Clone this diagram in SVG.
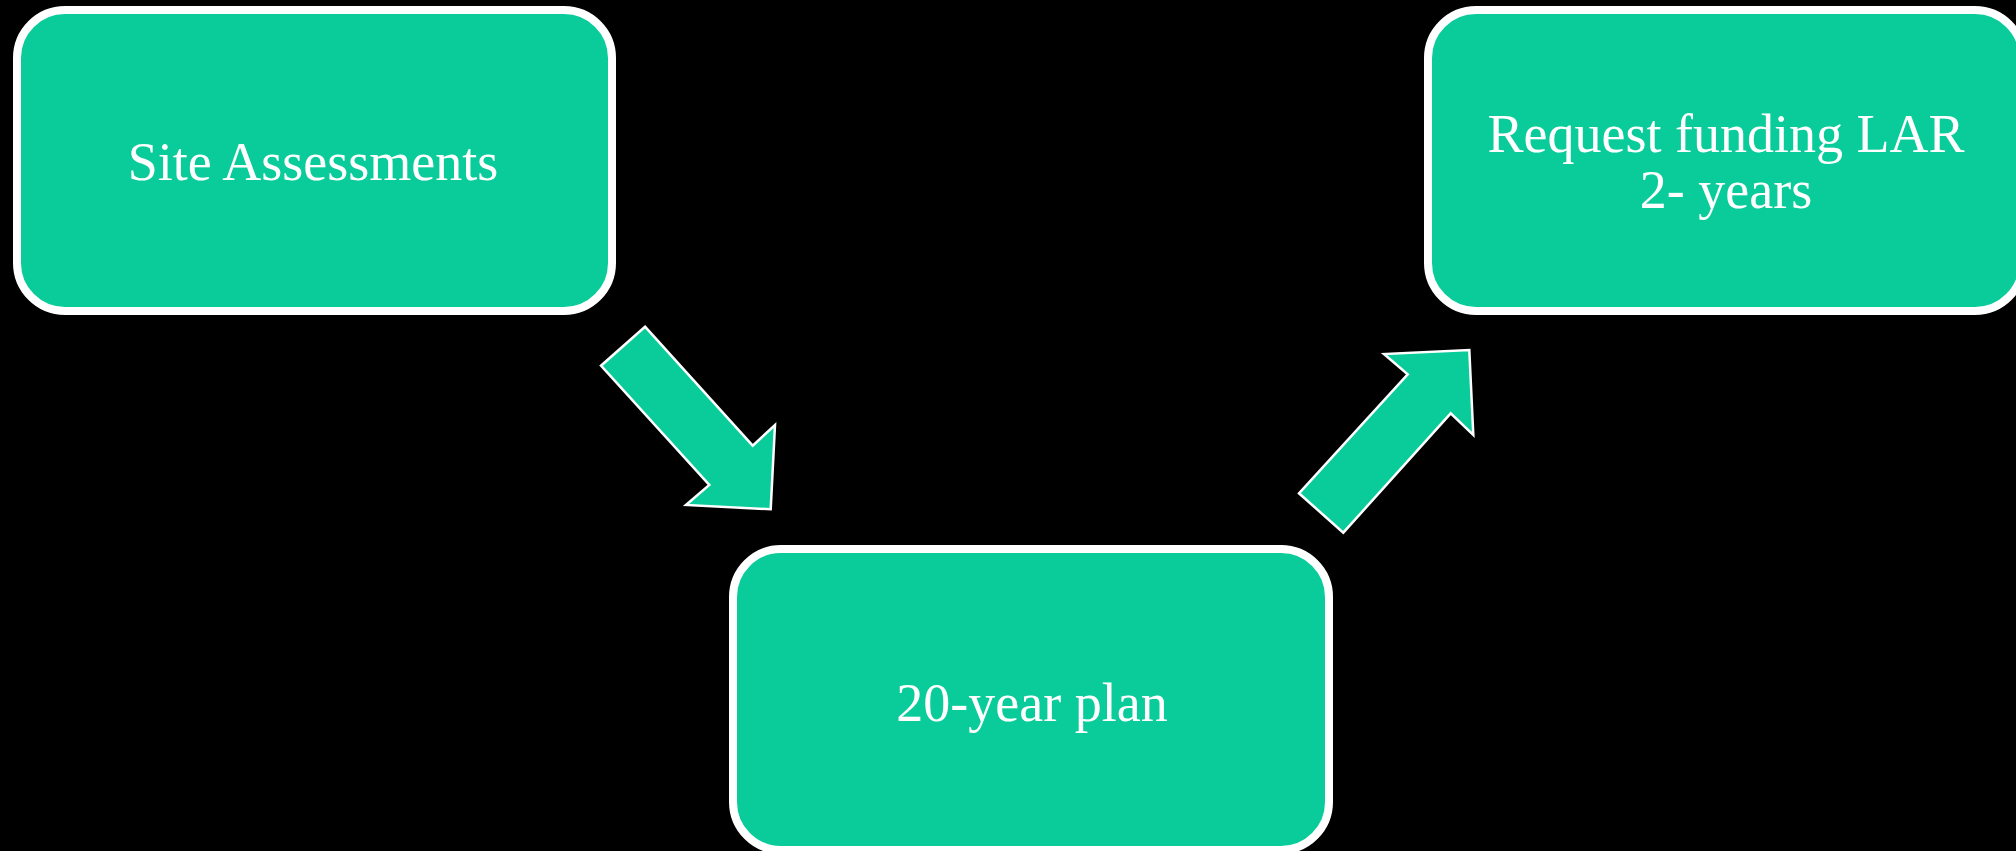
<svg xmlns="http://www.w3.org/2000/svg" width="2016" height="851" viewBox="0 0 2016 851">
  <style>
    .box { fill: #0ACC9B; stroke: #FFFFFF; stroke-width: 8; }
    .arrow { fill: #0ACC9B; stroke: #FFFFFF; stroke-width: 2.5; stroke-linejoin: miter; }
    .label { font-family: "Liberation Serif", "Times New Roman", serif; font-size: 54px; fill: #FFFFFF; text-anchor: middle; }
  </style>
  <rect x="0" y="0" width="2016" height="851" fill="#000000"/>
  <g id="connectors">
    <polygon class="arrow" points="645,326.7 752.7,445.7 775,425 770.7,509.3 686,505 709.3,485 601,365.7"/>
    <polygon class="arrow" points="1299,493.3 1407.7,374.3 1384,354 1469.3,350 1473.3,435 1450.7,413.3 1343.3,532.7"/>
  </g>
  <g id="node-site-assessments">
    <rect class="box" x="17" y="10" width="595" height="301" rx="48" ry="48"/>
    <text class="label" x="313" y="180">Site Assessments</text>
  </g>
  <g id="node-20-year-plan">
    <rect class="box" x="733" y="549" width="596" height="301" rx="48" ry="48"/>
    <text class="label" x="1032" y="721">20-year plan</text>
  </g>
  <g id="node-request-funding">
    <rect class="box" x="1428" y="10" width="595" height="301" rx="48" ry="48"/>
    <text class="label" x="1726" y="152">Request funding LAR</text>
    <text class="label" x="1726" y="208">2- years</text>
  </g>
</svg>
